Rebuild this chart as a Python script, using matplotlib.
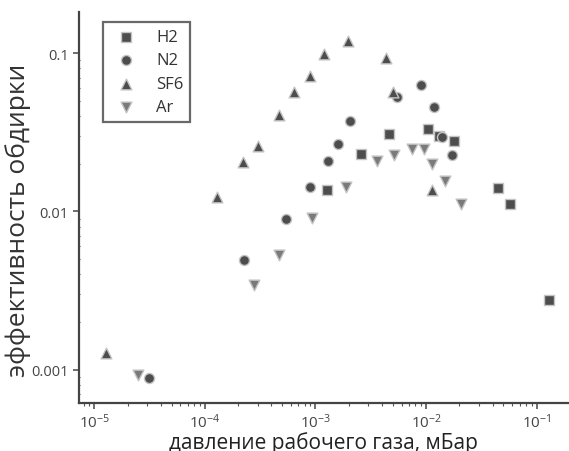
import matplotlib
matplotlib.use('Agg')
import matplotlib.pyplot as plt
from matplotlib.ticker import LogLocator, FixedLocator, NullFormatter

plt.rcParams['font.family'] = ['Open Sans', 'DejaVu Sans']
plt.rcParams['mathtext.default'] = 'regular'

# pressure (mbar) and stripping efficiency per gas
h2_p = [1.28e-3, 2.58e-3, 4.62e-3, 1.03e-2, 1.32e-2, 1.80e-2, 4.44e-2, 5.74e-2, 0.129]
h2_e = [0.0137, 0.0232, 0.0310, 0.0331, 0.0300, 0.0279, 0.0140, 0.0111, 0.00275]

n2_p = [3.14e-5, 2.26e-4, 5.41e-4, 8.91e-4, 1.29e-3, 1.61e-3, 2.05e-3, 5.42e-3,
        8.93e-3, 1.19e-2, 1.38e-2, 1.73e-2]
n2_e = [0.00089, 0.00493, 0.00893, 0.0143, 0.0208, 0.0266, 0.0370, 0.0525,
        0.0628, 0.0458, 0.0293, 0.0227]

sf6_p = [1.27e-5, 1.28e-4, 2.22e-4, 3.00e-4, 4.68e-4, 6.43e-4, 8.91e-4, 1.20e-3,
         1.95e-3, 4.31e-3, 5.05e-3, 1.13e-2]
sf6_e = [0.00128, 0.0124, 0.0205, 0.0259, 0.0406, 0.0565, 0.0713, 0.0986,
         0.1196, 0.0926, 0.0565, 0.0137]

ar_p = [2.50e-5, 2.80e-4, 4.71e-4, 9.35e-4, 1.89e-3, 3.57e-3, 5.13e-3, 7.41e-3,
        9.64e-3, 1.14e-2, 1.48e-2, 2.06e-2]
ar_e = [0.000927, 0.00341, 0.00528, 0.00914, 0.0142, 0.0208, 0.0228, 0.0247,
        0.0247, 0.0199, 0.0156, 0.0111]

x_ticks = [1e-5, 1e-4, 1e-3, 1e-2, 1e-1]
x_labels = ['$10^{-5}$', '$10^{-4}$', '$10^{-3}$', '$10^{-2}$', '$10^{-1}$']
y_ticks = [0.001, 0.01, 0.1]
y_labels = ['0.001', '0.01', '0.1']

fig = plt.figure(figsize=(5.69, 4.52), dpi=100)
ax = fig.add_axes([0.138, 0.107, 0.862, 0.864])

dark = '#4d4d4d'
edge = '#c4c4c4'
ax.scatter(h2_p, h2_e, marker='s', s=42, color=dark, edgecolors=edge, linewidths=1, label='H2', zorder=3)
ax.scatter(n2_p, n2_e, marker='o', s=52, color=dark, edgecolors=edge, linewidths=1, label='N2', zorder=3)
ax.scatter(sf6_p, sf6_e, marker='^', s=60, color=dark, edgecolors=edge, linewidths=1, label='SF6', zorder=3)
ax.scatter(ar_p, ar_e, marker='v', s=60, color='#7a7a7a', edgecolors=edge, linewidths=1, label='Ar', zorder=3)

ax.set_xscale('log')
ax.set_yscale('log')
ax.set_xlim(7.2e-6, 0.196)
ax.set_ylim(6.18e-4, 0.1816)

ax.xaxis.set_major_locator(FixedLocator(x_ticks))
ax.set_xticklabels(x_labels, fontsize=11, color='#444444')
ax.yaxis.set_major_locator(FixedLocator(y_ticks))
ax.set_yticklabels(y_labels, fontsize=10.5, color='#444444')
ax.xaxis.set_minor_locator(LogLocator(base=10, subs=range(2, 10), numticks=20))
ax.yaxis.set_minor_locator(LogLocator(base=10, subs=range(2, 10), numticks=20))
ax.xaxis.set_minor_formatter(NullFormatter())
ax.yaxis.set_minor_formatter(NullFormatter())

ax.tick_params(axis='x', which='major', direction='out', length=4, width=1.2, color='#555555', pad=3)
ax.tick_params(axis='x', which='minor', direction='out', length=2.5, width=0.8, color='#555555')
ax.tick_params(axis='y', which='major', direction='out', length=4, width=1.2, color='#555555', pad=3)
ax.tick_params(axis='y', which='minor', direction='inout', length=2, width=0.8, color='#555555')

for side in ['top', 'right']:
    ax.spines[side].set_visible(False)
for side in ['left', 'bottom']:
    ax.spines[side].set_linewidth(1.6)
    ax.spines[side].set_color('#444444')

ax.set_xlabel('давление рабочего газа, мБар', fontsize=15, color='#222222', labelpad=0)
ax.set_ylabel('эффективность обдирки', fontsize=19, color='#333333')
ax.yaxis.set_label_coords(-0.097, 0.47)

leg = ax.legend(loc='upper left', bbox_to_anchor=(0.05, 0.974), borderaxespad=0,
                fontsize=12, frameon=True, fancybox=False, labelspacing=0.45,
                handletextpad=0.8, borderpad=0.4, scatterpoints=1)
leg.get_frame().set_edgecolor('#444444')
leg.get_frame().set_linewidth(1.6)
for t in leg.get_texts():
    t.set_color('#333333')

fig.savefig('out.png', dpi=100)
